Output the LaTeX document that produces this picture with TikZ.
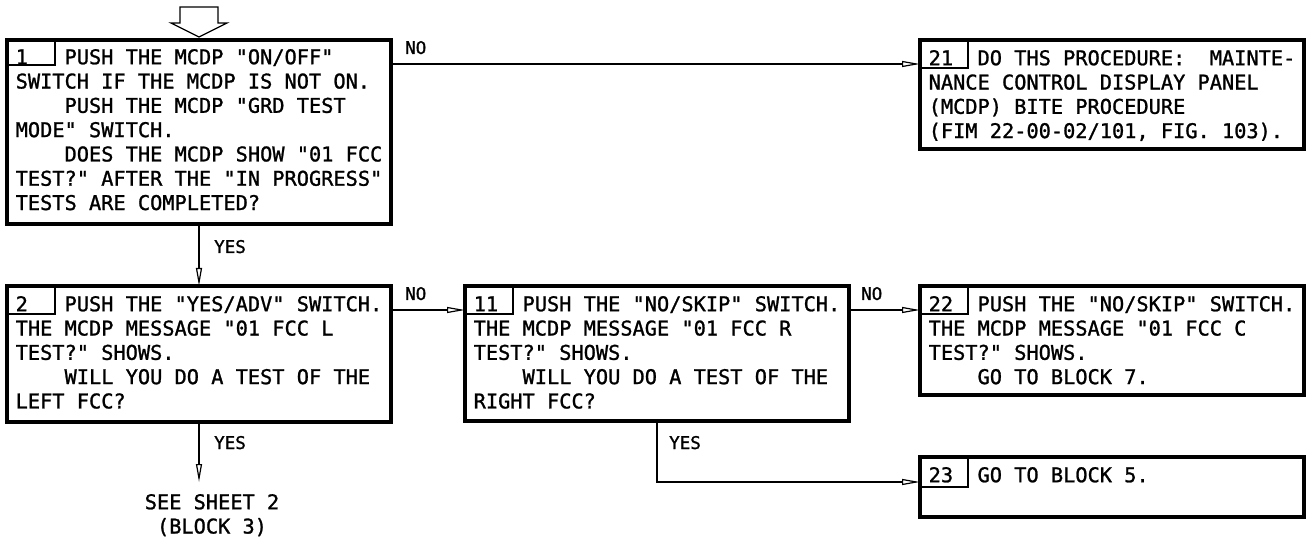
\documentclass[tikz,border=0pt]{standalone}
\usepackage{fontspec}
\usetikzlibrary{arrows.meta}
\newfontfamily\monofnt[FakeBold=1.2]{DejaVu Sans Mono}
\newcommand\ind{\hphantom{0000}}
\tikzset{
  box/.style={draw, line width=3.2pt, inner sep=0pt, outer sep=0pt, anchor=north west, minimum width=384pt},
  txt/.style={anchor=north west, inner sep=0pt, align=left, font=\monofnt\fontsize{20.3pt}{24.3pt}\selectfont\frenchspacing},
  lbl/.style={anchor=base west, inner sep=0pt, font=\monofnt\fontsize{17.5pt}{20pt}\selectfont},
  conn/.style={line width=1.2pt, -{Triangle[open, length=18pt, width=6pt]}},
  cellline/.style={line width=1.2pt},
}
\begin{document}
\begin{tikzpicture}[x=1pt,y=-1pt]
\useasboundingbox (0,0) rectangle (1310,537);

% boxes
\node[box, minimum height=184pt] (b1) at (7,40) {};
\node[box, minimum height=136pt] (b2) at (7,286) {};
\node[box, minimum height=135pt] (b11) at (465,286) {};
\node[box, minimum height=109pt] (b21) at (920,40) {};
\node[box, minimum height=109pt] (b22) at (920,286) {};
\node[box, minimum height=60pt] (b23) at (920,457) {};

% number cells
\draw[cellline] ([xshift=48pt]b1.north west) -- ++(0,25) -- ([yshift=-25pt]b1.north west);
\draw[cellline] ([xshift=48pt]b2.north west) -- ++(0,28) -- ([yshift=-28pt]b2.north west);
\draw[cellline] ([xshift=48pt]b11.north west) -- ++(0,28) -- ([yshift=-28pt]b11.north west);
\draw[cellline] ([xshift=48pt]b21.north west) -- ++(0,28) -- ([yshift=-28pt]b21.north west);
\draw[cellline] ([xshift=48pt]b22.north west) -- ++(0,28) -- ([yshift=-28pt]b22.north west);
\draw[cellline] ([xshift=48pt]b23.north west) -- ++(0,30) -- ([yshift=-30pt]b23.north west);

% texts
\node[txt] (t1) at ([xshift=8.5pt,yshift=-7pt]b1.north west) {\strut 1\hphantom{000}PUSH THE MCDP "ON/OFF"\\
SWITCH IF THE MCDP IS NOT ON.\\
\ind PUSH THE MCDP "GRD TEST\\
MODE" SWITCH.\\
\ind DOES THE MCDP SHOW "01 FCC\\
TEST?" AFTER THE "IN PROGRESS"\\
TESTS ARE COMPLETED?};

\node[txt] (t2) at ([xshift=8.5pt,yshift=-8pt]b2.north west) {\strut 2\hphantom{000}PUSH THE "YES/ADV" SWITCH.\\
THE MCDP MESSAGE "01 FCC L\\
TEST?" SHOWS.\\
\ind WILL YOU DO A TEST OF THE\\
LEFT FCC?};

\node[txt] (t11) at ([xshift=8.5pt,yshift=-8pt]b11.north west) {\strut 11\hphantom{00}PUSH THE "NO/SKIP" SWITCH.\\
THE MCDP MESSAGE "01 FCC R\\
TEST?" SHOWS.\\
\ind WILL YOU DO A TEST OF THE\\
RIGHT FCC?};

\node[txt] (t21) at ([xshift=8.5pt,yshift=-8pt]b21.north west) {\strut 21\hphantom{00}DO THS PROCEDURE:\ \ MAINTE-\\
NANCE CONTROL DISPLAY PANEL\\
(MCDP) BITE PROCEDURE\\
(FIM 22-00-02/101, FIG. 103).};

\node[txt] (t22) at ([xshift=8.5pt,yshift=-8pt]b22.north west) {\strut 22\hphantom{00}PUSH THE "NO/SKIP" SWITCH.\\
THE MCDP MESSAGE "01 FCC C\\
TEST?" SHOWS.\\
\ind GO TO BLOCK 7.};

\node[txt] (t23) at ([xshift=8.5pt,yshift=-8pt]b23.north west) {\strut 23\hphantom{00}GO TO BLOCK 5.};

\node[txt, anchor=north, align=center] (see) at (212,492) {\strut SEE SHEET 2\\(BLOCK 3)};
\coordinate (seetop) at ([yshift=10pt]see.north);

% entry arrow
\draw[cellline] ([yshift=3pt]b1.north) -- ++(-28,-14) -- ++(9,0) -- ++(0,-16) -- ++(38,0) -- ++(0,16) -- ++(9,0) -- cycle;

% connectors
\draw[conn] ([yshift=-24pt]b1.north east) -- ([yshift=-24pt]b21.north west);
\draw[conn] (b1.south) -- (b2.north);
\draw[conn] ([yshift=-24pt]b2.north east) -- ([yshift=-24pt]b11.north west);
\draw[conn] ([yshift=-24pt]b11.north east) -- ([yshift=-24pt]b22.north west);
\draw[conn] (b2.south) -- (b2.south |- seetop);
\draw[conn] (b11.south) |- ([yshift=-25pt]b23.north west);

% labels
\node[lbl] (l1) at (405,54) {NO};
\node[lbl] (l2) at (214,253) {YES};
\node[lbl] (l3) at (405,300) {NO};
\node[lbl] (l4) at (861,300) {NO};
\node[lbl] (l5) at (214,449) {YES};
\node[lbl] (l6) at (669,449) {YES};
\end{tikzpicture}
\end{document}
